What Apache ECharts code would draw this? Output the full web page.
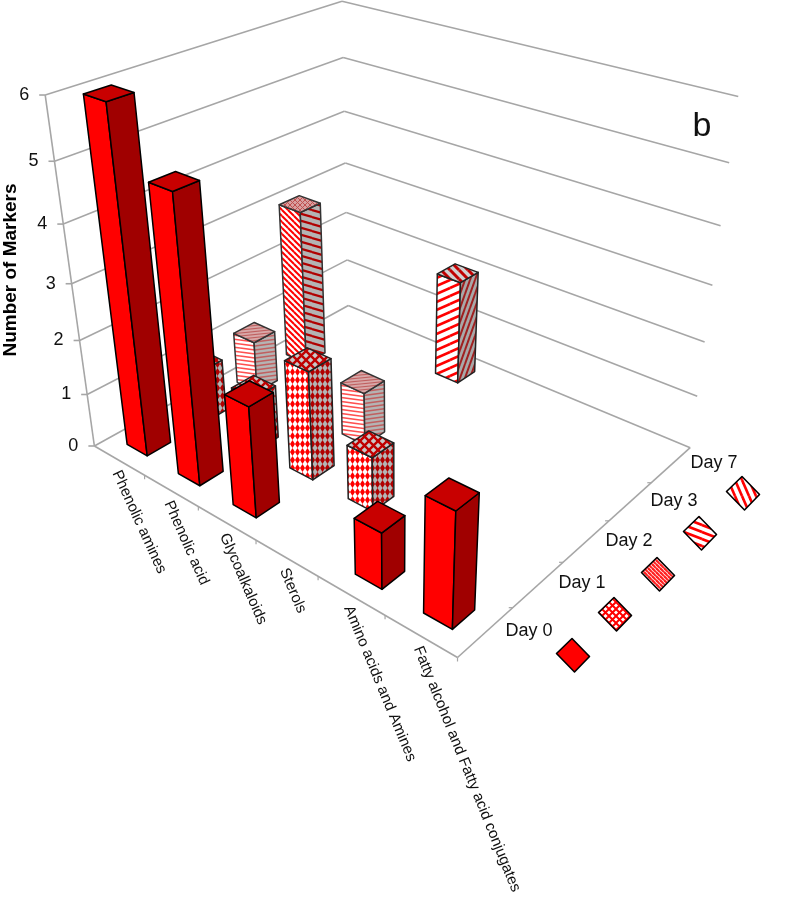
<!DOCTYPE html>
<html>
<head>
<meta charset="utf-8">
<style>html,body{margin:0;padding:0;background:#fff}#chart{width:796px;height:900px}</style>
<script src="https://cdn.jsdelivr.net/npm/echarts@6/dist/echarts.min.js"></script>
</head>
<body>
<div id="chart"></div>
<script>
// ---- data ----
var categories = ['Phenolic amines','Phenolic acid','Glycoalkaloids','Sterols','Amino acids and Amines','Fatty alcohol and Fatty acid conjugates'];
var dayNames = ['Day 0','Day 1','Day 2','Day 3','Day 7'];
var day0Values = [6,5,2,0,1,2];
var day1Values = [1,1,2,1,0,0];
var day2Values = [1,0,1,0,0,0];
var day3Values = [3,0,0,0,0,0];
var day7Values = [0,0,2,0,0,0];
var valueTicks = [0,1,2,3,4,5,6];
var yAxisTitle = 'Number of Markers';
var panelLabel = 'b';

// ---- 3D camera calibration: [category, day, value, pixelX, pixelY] ----
var calibration = [
 [0,0,0,94,446],[6,0,0,457,657],[6,5,0,690,447],[0,5,0,348,306],
 [0,5,6,342,1],[6,5,6,738,97],[0,0,6,45,95],
 [1,0,0,145,476],[5,0,0,384,617],[6,1,0,513,607],[6,4,0,652,482],
 [0,5,3,345,163],[6,5,3,713,286],[0,0,3,72,283],[0,0,1,88,394]
];
function solve(A,b){
  var n=b.length,i,j,k;
  for(i=0;i<n;i++){
    var m=i; for(k=i+1;k<n;k++) if(Math.abs(A[k][i])>Math.abs(A[m][i])) m=k;
    var t=A[i];A[i]=A[m];A[m]=t; t=b[i];b[i]=b[m];b[m]=t;
    for(k=i+1;k<n;k++){var f=A[k][i]/A[i][i]; for(j=i;j<n;j++)A[k][j]-=f*A[i][j]; b[k]-=f*b[i];}
  }
  var x=[];
  for(i=n-1;i>=0;i--){var s=b[i]; for(j=i+1;j<n;j++)s-=A[i][j]*x[j]; x[i]=s/A[i][i];}
  return x;
}
var cam=(function(){
  var N=[],R=[],i,j;
  for(i=0;i<11;i++){N.push(new Array(11).fill(0));R.push(0);}
  function add(r,v){for(i=0;i<11;i++){R[i]+=r[i]*v;for(j=0;j<11;j++)N[i][j]+=r[i]*r[j];}}
  calibration.forEach(function(p){
    var X=p[0],Y=p[1],Z=p[2],u=p[3]/1000,v=p[4]/1000;
    add([X,Y,Z,1,0,0,0,0,-u*X,-u*Y,-u*Z],u);
    add([0,0,0,0,X,Y,Z,1,-v*X,-v*Y,-v*Z],v);
  });
  return solve(N,R);
})();
function project(c,d,z){
  var w=cam[8]*c+cam[9]*d+cam[10]*z+1;
  return [1000*(cam[0]*c+cam[1]*d+cam[2]*z+cam[3])/w, 1000*(cam[4]*c+cam[5]*d+cam[6]*z+cam[7])/w];
}

// ---- hatch patterns ----
function tile(w,h,bg,draw){
  var c=document.createElement('canvas');c.width=w;c.height=h;
  var x=c.getContext('2d');x.fillStyle=bg;x.fillRect(0,0,w,h);draw(x,w,h);
  return {image:c,repeat:'repeat'};
}
function stripes(w,h,bg,fg,lw,dir){
  return tile(w,h,bg,function(x){
    x.strokeStyle=fg;x.lineWidth=lw;
    for(var i=-1;i<=1;i++)for(var j=-1;j<=1;j++){
      x.beginPath();
      if(dir>0){x.moveTo(i*w,j*h+h);x.lineTo(i*w+w,j*h);}
      else{x.moveTo(i*w,j*h);x.lineTo(i*w+w,j*h+h);}
      x.stroke();
    }
  });
}
function diamonds(w,h,bg,fg){
  return tile(w,h,bg,function(x){
    x.fillStyle=fg;x.beginPath();x.moveTo(w/2,0);x.lineTo(w,h/2);x.lineTo(w/2,h);x.lineTo(0,h/2);x.closePath();x.fill();
  });
}
function plaid(w,h,bg,fg,lw){
  return tile(w,h,bg,function(x){
    x.strokeStyle=fg;x.lineWidth=lw;
    x.beginPath();x.moveTo(-1,-1);x.lineTo(w+1,h+1);x.moveTo(-1,h+1);x.lineTo(w+1,-1);x.stroke();
  });
}
var RED='#ff0000',DARK='#a00000',TOP='#c80000',GREY='#b4b4b4';
var faceStyles=[
 {front:RED,side:DARK,top:TOP,stroke:'#000'},
 {front:diamonds(5,8,'#fff',RED),side:diamonds(5,8,GREY,'#b00000'),top:plaid(9,9,'#c8c8c8','#c00000',2.4),stroke:'#222'},
 {front:stripes(30,4,'#fff','#ff5050',1.6,-1),side:stripes(30,4,GREY,'#c06060',1.6,1),top:stripes(30,3,'#d8a8a8','#c06060',1.2,1),stroke:'#333'},
 {front:stripes(6,6,'#fff',RED,2,-1),side:stripes(24,7,GREY,'#b00000',2.2,-1),top:plaid(5,5,'#d8a0a0','#c05050',1),stroke:'#333'},
 {front:stripes(18,8,'#fff',RED,2.6,1),side:stripes(5,14,'#a8a8a8','#a02020',2,1),top:stripes(9,9,'#d0d0d0','#c00000',3,-1),stroke:'#222'}
];
var legendFills=[
 RED,
 plaid(7,7,'#fff',RED,2),
 stripes(4,4,'#fff','#ff2020',2.2,-1),
 stripes(18,7,'#fff',RED,2.6,-1),
 stripes(7,16,'#fff',RED,2.6,-1)
];

// ---- render helpers ----
var FONT='"Liberation Sans", Arial, sans-serif';
var LINE='#a6a6a6';
var BAR_W=0.4, BAR_D=0.4;
function lineEl(a,b,api,w){
  var p=api.coord(a),q=api.coord(b);
  return {type:'line',shape:{x1:p[0],y1:p[1],x2:q[0],y2:q[1]},style:{stroke:LINE,lineWidth:w||1.6,fill:null}};
}
function poly(pts,api,fill,stroke,lw){
  return {type:'polygon',shape:{points:pts.map(function(p){return api.coord(p);})},style:{fill:fill,stroke:stroke,lineWidth:lw,lineJoin:'round'}};
}
function renderWall(params,api){
  var z=api.value(0);
  var a=project(0,0,z),b=project(0,5,z),c=project(6,5,z);
  var pa=api.coord(a);
  return {type:'group',children:[
    lineEl(a,b,api),lineEl(b,c,api),
    lineEl([a[0]-6,a[1]],a,api),
    {type:'text',x:pa[0]-16,y:pa[1],style:{text:String(z),font:'18px '+FONT,fill:'#111',align:'right',verticalAlign:'middle'}}
  ]};
}
function renderFrame(params,api){
  return {type:'group',children:[
    lineEl(project(0,0,0),project(0,0,6),api),
    lineEl(project(0,0,0),project(6,0,0),api),
    lineEl(project(6,0,0),project(6,5,0),api)
  ]};
}
function renderCategory(params,api){
  var i=api.value(0),t=project(i+1,0,0),s=project(i+0.5,0,0),p=api.coord(s);
  return {type:'group',children:[
    lineEl(t,[t[0],t[1]+4],api,1.2),
    {type:'text',x:p[0]-3,y:p[1]+11,rotation:-(65.5+0.5*i)*Math.PI/180,style:{text:categories[i],font:'15.2px '+FONT,fill:'#111',align:'left',verticalAlign:'middle'}}
  ]};
}
function renderDayTick(params,api){
  var t=project(6,api.value(0)+1,0);
  return lineEl([t[0]-4,t[1]],t,api,1.2);
}
function renderBar(params,api){
  var c=api.value(0),s=api.value(1),v=api.value(2);
  if(!v) return null;
  var st=faceStyles[params.seriesIndex-4];
  var c0=c+0.5-BAR_W/2,c1=c+0.5+BAR_W/2,d0=s+0.5-BAR_D/2,d1=s+0.5+BAR_D/2;
  var lw=1.5;
  return {type:'group',children:[
    poly([project(c0,d0,0),project(c1,d0,0),project(c1,d0,v),project(c0,d0,v)],api,st.front,st.stroke,lw),
    poly([project(c1,d0,0),project(c1,d1,0),project(c1,d1,v),project(c1,d0,v)],api,st.side,st.stroke,lw),
    poly([project(c0,d0,v),project(c1,d0,v),project(c1,d1,v),project(c0,d1,v)],api,st.top,st.stroke,lw)
  ]};
}
var legendCentres=[[573,655],[615,614],[658,574],[700,533],[743,493]];
var legendLabelCentres=[[529,631],[582,583],[629,541],[674,501],[714,463]];
function renderLegend(params,api){
  var i=api.value(0),cx=legendCentres[i][0],cy=legendCentres[i][1];
  var pts=[[cx-1,cy-16.5],[cx+16.5,cy+1.5],[cx+1.5,cy+17],[cx-16.5,cy-1.5]];
  var lp=api.coord(legendLabelCentres[i]);
  return {type:'group',children:[
    poly(pts,api,legendFills[i],'#000',1.6),
    {type:'text',x:lp[0],y:lp[1],style:{text:dayNames[i],font:'18px '+FONT,fill:'#111',align:'center',verticalAlign:'middle'}}
  ]};
}
function seq(n){var a=[];for(var i=0;i<n;i++)a.push([i]);return a;}
function base(name,renderItem,data){
  return {type:'custom',name:name,coordinateSystem:'cartesian2d',clip:false,silent:true,renderItem:renderItem,data:data,animation:false};
}
var rows=[day0Values,day1Values,day2Values,day3Values,day7Values];
var series=[
  base('walls',renderWall,valueTicks.map(function(z){return [z];})),
  base('frame',renderFrame,[[0]]),
  base('categories',renderCategory,seq(categories.length)),
  base('dayTicks',renderDayTick,seq(dayNames.length-1))
];
rows.forEach(function(vals,s){
  var b=base(dayNames[s],renderBar,vals.map(function(v,c){return [c,s,v];}));
  b.z=10-s; // farther days are painted first
  series.push(b);
});
series.push(base('legend',renderLegend,seq(dayNames.length)));

var chart=echarts.init(document.getElementById('chart'),null,{renderer:'canvas'});
chart.setOption({
  animation:false,
  backgroundColor:'#fff',
  grid:{left:0,right:0,top:0,bottom:0},
  xAxis:{type:'value',min:0,max:796,show:false},
  yAxis:{type:'value',min:0,max:900,inverse:true,show:false},
  series:series,
  graphic:[
    {type:'text',x:702,y:127,style:{text:panelLabel,font:'34px '+FONT,fill:'#111',align:'center',verticalAlign:'middle'}},
    {type:'text',x:11,y:270,rotation:Math.PI/2,style:{text:yAxisTitle,font:'bold 19px '+FONT,fill:'#000',align:'center',verticalAlign:'middle'}}
  ]
});
</script>
</body>
</html>
